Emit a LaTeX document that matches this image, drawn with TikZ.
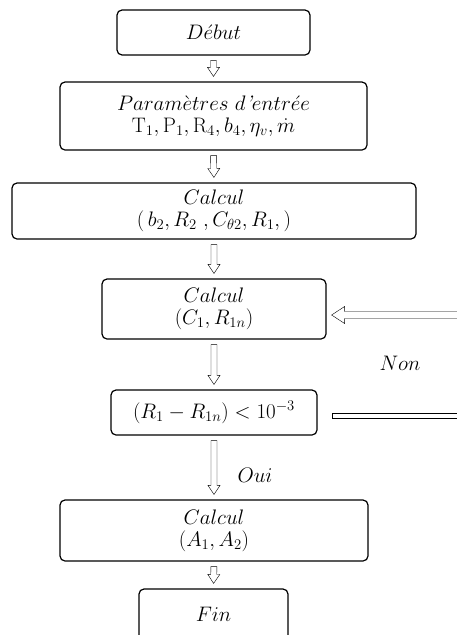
\RequirePackage{fix-cm}
\documentclass[tikz,border=0pt]{standalone}
\usepackage{tikz}
\usetikzlibrary{calc}

\newcommand{\gapa}{5pt}
\newcommand{\gapb}{5pt}

\begin{document}
\begin{tikzpicture}[
    x=1pt, y=-1pt,
    box/.style={draw, line width=1.2pt, rounded corners=5pt, align=center,
                inner sep=0pt, font=\fontsize{21}{22}\selectfont},
    lbl/.style={font=\fontsize{21}{22}\selectfont},
    hollow/.style n args={3}{line width=1pt, to path={
        let \p1=($(\tikztostart)!\gapa!(\tikztotarget)$),
            \p2=($(\tikztotarget)!\gapb!(\tikztostart)$) in
        ($(\p1)!#1!90:(\p2)$) -- ($(\p2)!#3!(\p1)!#1!-90:(\p1)$)
        -- ($(\p2)!#3!(\p1)!#2!-90:(\p1)$) -- (\p2)
        -- ($(\p2)!#3!(\p1)!#2!90:(\p1)$) -- ($(\p2)!#3!(\p1)!#1!90:(\p1)$)
        -- ($(\p1)!#1!-90:(\p2)$) -- cycle}},
    hollowbar/.style={line width=1pt, to path={
        ($(\tikztostart)!#1!90:(\tikztotarget)$) -- ($(\tikztotarget)!#1!-90:(\tikztostart)$)
        -- ($(\tikztotarget)!#1!90:(\tikztostart)$) -- ($(\tikztostart)!#1!-90:(\tikztotarget)$)
        -- cycle}},
]
\useasboundingbox (0,0) rectangle (457,635);

% Boxes
\node[box, minimum width=193pt, minimum height=45pt] (debut) at (213.5,32.5) {$D\acute{e}but$};
\node[box, minimum width=307pt, minimum height=68pt] (param) at (213.5,116)
    {$Param\grave{e}tres\ d\mbox{\itshape '}entr\acute{e}e$\\ $\mathrm{T}_1, \mathrm{P}_1, \mathrm{R}_4, b_4, \eta_v, \dot{m}$};
\node[box, minimum width=404pt, minimum height=56pt] (calca) at (214,211)
    {$Calcul$\\ $(\,b_2, R_2\ , C_{\theta 2}, R_1, )$};
\node[box, minimum width=224pt, minimum height=60pt] (calcb) at (214,309)
    {$Calcul$\\ $(C_1, R_{1n})$};
\node[box, minimum width=206pt, minimum height=45pt] (test) at (214,412.5)
    {$(R_1 - R_{1n}) < 10^{-3}$};
\node[box, minimum width=308pt, minimum height=61pt] (calcc) at (214,530.5)
    {$Calcul$\\ $(A_1, A_2)$};
\node[box, minimum width=149pt, minimum height=51pt] (fin) at (213.5,614.5) {$Fin$};

% Labels
\node[lbl] (non) at (400,363) {$Non$};
\node[lbl] (oui) at (255,475) {$Oui$};

% Arrows down
\draw (debut.south) to[hollow={3pt}{6pt}{9pt}] (param.north);
\draw (param.south) to[hollow={3pt}{6pt}{9pt}] (calca.north);
\draw (calca.south) to[hollow={3pt}{6pt}{9pt}] (calcb.north);
\draw (calcb.south) to[hollow={3pt}{6pt}{9pt}] (test.north);
\draw (test.south) to[hollow={3pt}{6pt}{9pt}] (calcc.north);
\draw (calcc.south) to[hollow={3pt}{6pt}{9pt}] (fin.north);

% Loop back
\coordinate (loopin) at (470,315);
\coordinate (loopout) at (470,415.5);
\draw (loopin) to[hollow={3.5pt}{8.5pt}{13pt}] (calcb.east |- loopin);
\draw ($(test.east |- loopout)+(15,0)$) to[hollowbar=2.5pt] (loopout);
\end{tikzpicture}
\end{document}
